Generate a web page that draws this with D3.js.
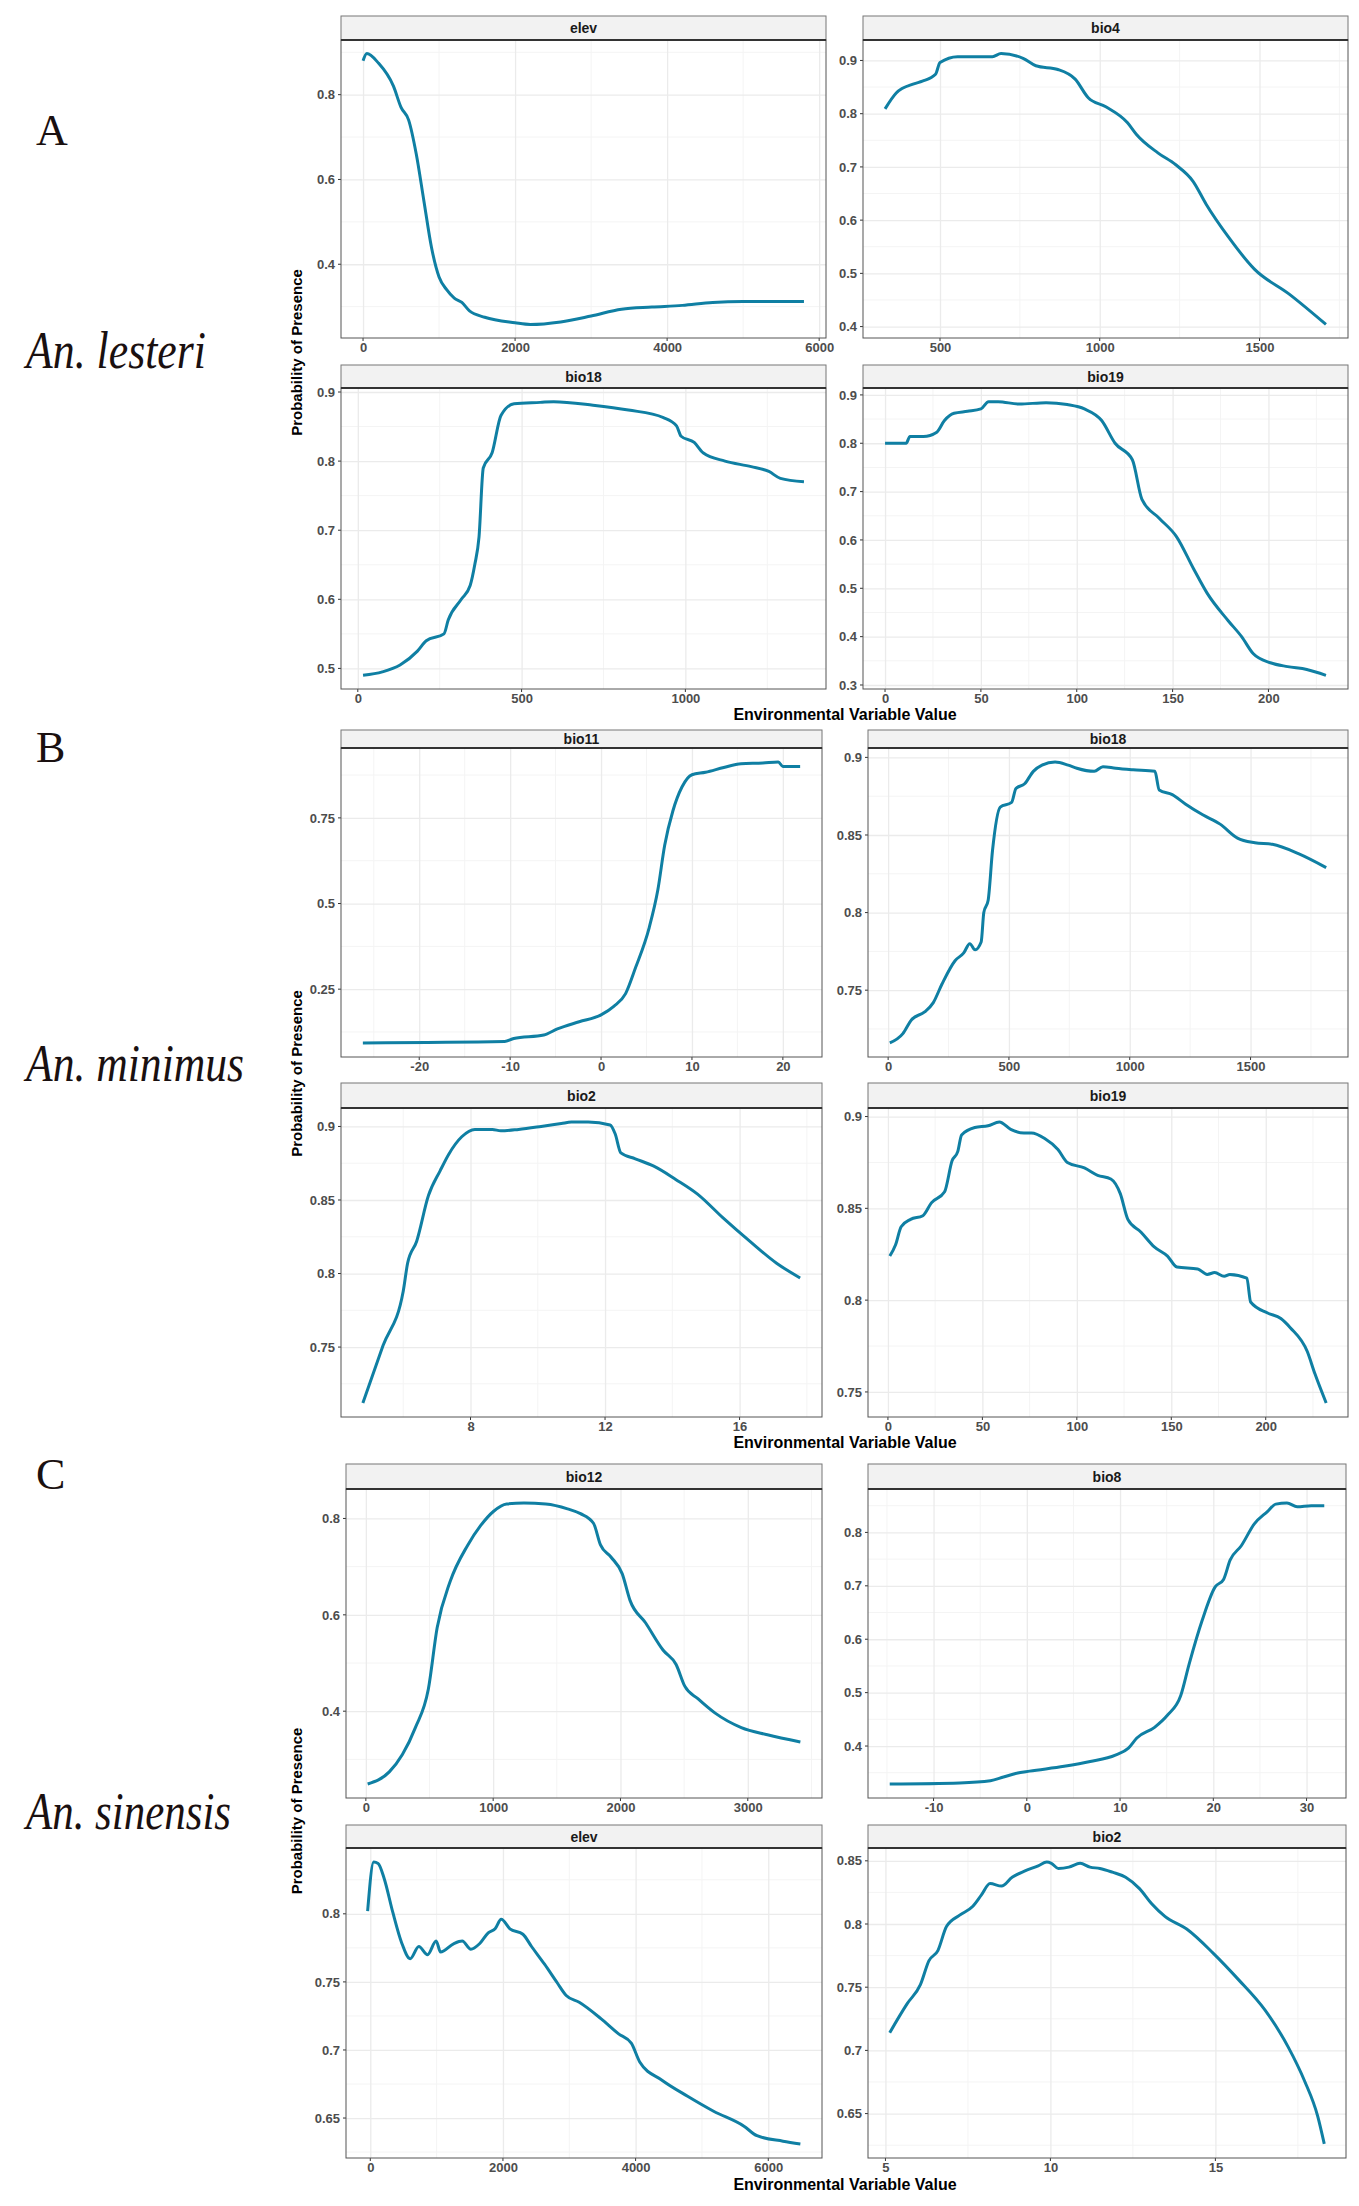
<!DOCTYPE html>
<html>
<head>
<meta charset="utf-8">
<title>Response curves</title>
<script src="https://d3js.org/d3.v7.min.js"></script>
<style>
  body { margin: 0; background: #fff; }
</style>
</head>
<body>
<script>
// data: [x, probability]
var aElev = [[0,0.88],[50,0.897],[200,0.875],[400,0.82],[500,0.77],[600,0.74],[700,0.66],[800,0.55],[900,0.44],[1000,0.37],[1100,0.34],[1200,0.32],[1300,0.31],[1400,0.29],[1600,0.275],[2000,0.262],[2200,0.258],[2600,0.264],[3000,0.278],[3400,0.294],[3800,0.299],[4200,0.303],[4600,0.31],[5000,0.312],[5800,0.312]];
var aBio4 = [[328,0.809],[363,0.839],[418,0.856],[445,0.861],[486,0.874],[500,0.896],[555,0.907],[664,0.907],[691,0.913],[760,0.904],[800,0.89],[869,0.883],[923,0.865],[964,0.83],[1019,0.813],[1087,0.783],[1115,0.761],[1183,0.726],[1238,0.704],[1292,0.673],[1333,0.63],[1402,0.569],[1484,0.508],[1593,0.461],[1708,0.404]];
var aBio18 = [[16,0.49],[75,0.495],[129,0.505],[182,0.525],[209,0.54],[263,0.55],[276,0.57],[316,0.6],[343,0.62],[357,0.65],[370,0.69],[383,0.79],[410,0.812],[437,0.866],[477,0.883],[557,0.885],[598,0.886],[718,0.881],[826,0.874],[933,0.863],[973,0.851],[987,0.836],[1027,0.827],[1054,0.812],[1121,0.8],[1201,0.792],[1255,0.785],[1290,0.775],[1362,0.77]];
var aBio19 = [[0,0.8],[11,0.8],[13,0.814],[20,0.814],[27,0.823],[31,0.847],[36,0.862],[43,0.866],[50,0.871],[54,0.886],[59,0.886],[70,0.881],[84,0.884],[95,0.88],[104,0.871],[113,0.847],[120,0.8],[129,0.766],[134,0.684],[143,0.645],[152,0.607],[161,0.54],[168,0.49],[179,0.433],[186,0.4],[192,0.365],[201,0.346],[210,0.338],[220,0.332],[230,0.32]];

var bBio11 = [[-26.2,0.093],[-10.6,0.097],[-9.6,0.106],[-6.3,0.116],[-4.8,0.134],[-2.4,0.155],[0,0.175],[1.4,0.2],[2.7,0.237],[3.8,0.313],[5.3,0.43],[6.25,0.54],[7,0.67],[7.9,0.77],[8.9,0.84],[10,0.876],[11.5,0.883],[13.5,0.897],[15.4,0.908],[17.8,0.91],[19.5,0.913],[20,0.9],[21.9,0.9]];
var bBio18 = [[7,0.716],[61,0.722],[97,0.731],[151,0.736],[187,0.742],[223,0.754],[277,0.769],[313,0.774],[338,0.78],[360,0.776],[385,0.781],[396,0.8],[414,0.808],[432,0.84],[464,0.868],[511,0.871],[529,0.88],[565,0.883],[601,0.891],[637,0.895],[691,0.897],[745,0.895],[781,0.893],[853,0.891],[889,0.894],[942,0.893],[1014,0.892],[1104,0.891],[1122,0.879],[1176,0.876],[1230,0.87],[1302,0.863],[1374,0.857],[1446,0.848],[1518,0.845],[1590,0.844],[1698,0.838],[1813,0.829]];
var bBio2 = [[4.8,0.712],[5.4,0.751],[6.0,0.788],[6.13,0.807],[6.4,0.822],[6.75,0.853],[7.1,0.87],[7.35,0.881],[7.74,0.893],[8.13,0.898],[8.65,0.898],[8.9,0.897],[9.43,0.898],[10.1,0.9],[10.7,0.902],[11.0,0.903],[11.5,0.903],[12.15,0.901],[12.3,0.895],[12.47,0.882],[12.9,0.878],[13.45,0.873],[14.1,0.864],[14.75,0.854],[15.5,0.838],[16.3,0.822],[17.1,0.807],[17.8,0.797]];
var bBio19 = [[1,0.824],[4,0.83],[7,0.84],[12,0.844],[18.5,0.846],[23,0.853],[30,0.859],[34,0.876],[37,0.881],[39,0.89],[46,0.894],[53,0.895],[59,0.897],[65,0.893],[72,0.891],[76,0.891],[83,0.888],[90,0.882],[95,0.875],[104,0.872],[111,0.868],[118,0.866],[123,0.858],[127,0.844],[134,0.837],[141,0.829],[148,0.824],[153,0.818],[164,0.817],[169,0.814],[173,0.815],[178,0.813],[181,0.814],[190,0.812],[192,0.799],[201,0.793],[208,0.79],[213,0.785],[222,0.772],[226,0.76],[232,0.744]];

var cBio12 = [[14,0.249],[184,0.274],[287,0.31],[389,0.366],[491,0.446],[560,0.573],[662,0.669],[799,0.744],[901,0.785],[1004,0.815],[1106,0.83],[1242,0.832],[1413,0.83],[1584,0.82],[1686,0.81],[1788,0.79],[1843,0.745],[1925,0.72],[2014,0.685],[2075,0.63],[2198,0.583],[2334,0.527],[2437,0.497],[2505,0.452],[2608,0.426],[2744,0.396],[2949,0.366],[3154,0.351],[3413,0.336]];
var cBio8 = [[-14.7,0.329],[-7.2,0.331],[-3.9,0.335],[-2.5,0.342],[-1.1,0.349],[0.3,0.353],[4.0,0.362],[6.8,0.371],[9.5,0.383],[10.9,0.396],[11.8,0.415],[13.7,0.435],[15.1,0.458],[16.5,0.494],[17.4,0.553],[18.8,0.635],[20.2,0.698],[21.1,0.712],[21.8,0.748],[23,0.775],[24.4,0.816],[25.8,0.839],[26.7,0.853],[27.9,0.855],[29,0.848],[30.5,0.85],[31.9,0.85]];
var cElev = [[-40,0.802],[52,0.838],[118,0.837],[209,0.826],[340,0.801],[471,0.779],[601,0.767],[732,0.776],[863,0.77],[993,0.78],[1059,0.772],[1255,0.778],[1386,0.78],[1516,0.774],[1647,0.778],[1778,0.786],[1882,0.789],[1974,0.796],[2105,0.789],[2301,0.785],[2431,0.776],[2627,0.763],[2823,0.749],[2954,0.74],[3150,0.735],[3477,0.723],[3739,0.712],[3935,0.705],[4065,0.691],[4392,0.678],[4784,0.666],[5176,0.655],[5634,0.644],[5830,0.637],[6222,0.633],[6484,0.631]];
var cBio2 = [[5.13,0.714],[5.66,0.737],[6.06,0.752],[6.32,0.771],[6.59,0.779],[6.85,0.798],[7.25,0.807],[7.65,0.814],[7.91,0.823],[8.17,0.832],[8.52,0.83],[8.84,0.837],[9.23,0.842],[9.63,0.846],[9.89,0.849],[10.03,0.848],[10.24,0.844],[10.56,0.845],[10.9,0.848],[11.2,0.845],[11.5,0.844],[11.88,0.841],[12.28,0.837],[12.7,0.828],[13.07,0.816],[13.47,0.806],[14.13,0.796],[14.93,0.777],[15.7,0.756],[16.5,0.732],[17.2,0.703],[17.7,0.676],[18.1,0.648],[18.3,0.626]];

// tick labels
var aElevXT = [0,2000,4000,6000], aElevYT = [0.4,0.6,0.8];
var aBio4XT = [500,1000,1500], aBio4YT = [0.4,0.5,0.6,0.7,0.8,0.9];
var aBio18XT = [0,500,1000], aBio18YT = [0.5,0.6,0.7,0.8,0.9];
var aBio19XT = [0,50,100,150,200], aBio19YT = [0.3,0.4,0.5,0.6,0.7,0.8,0.9];
var bBio11XT = [-20,-10,0,10,20], bBio11YT = [0.25,0.5,0.75];
var bBio18XT = [0,500,1000,1500], bBio18YT = [0.75,0.8,0.85,0.9];
var bBio2XT = [8,12,16], bBio2YT = [0.75,0.8,0.85,0.9];
var bBio19XT = [0,50,100,150,200], bBio19YT = [0.75,0.8,0.85,0.9];
var cBio12XT = [0,1000,2000,3000], cBio12YT = [0.4,0.6,0.8];
var cBio8XT = [-10,0,10,20,30], cBio8YT = [0.4,0.5,0.6,0.7,0.8];
var cElevXT = [0,2000,4000,6000], cElevYT = [0.65,0.7,0.75,0.8];
var cBio2XT = [5,10,15], cBio2YT = [0.65,0.7,0.75,0.8,0.85];

var groups = [
  {letter:"A", species:"An. lesteri", spW:180, letterY:145, spY:368, labelY:720,
   rows:[[16,40,338],[365,388,689]], cols:[[341,826],[863,1348]],
   panels:[["elev",aElev,aElevXT,aElevYT],["bio4",aBio4,aBio4XT,aBio4YT],["bio18",aBio18,aBio18XT,aBio18YT],["bio19",aBio19,aBio19XT,aBio19YT]]},
  {letter:"B", species:"An. minimus", spW:218, letterY:762, spY:1081, labelY:1448,
   rows:[[730,748,1057],[1083,1108,1417]], cols:[[341,822],[868,1348]],
   panels:[["bio11",bBio11,bBio11XT,bBio11YT],["bio18",bBio18,bBio18XT,bBio18YT],["bio2",bBio2,bBio2XT,bBio2YT],["bio19",bBio19,bBio19XT,bBio19YT]]},
  {letter:"C", species:"An. sinensis", spW:205, letterY:1489, spY:1829, labelY:2190,
   rows:[[1464,1489,1798],[1825,1848,2158]], cols:[[346,822],[868,1346]],
   panels:[["bio12",cBio12,cBio12XT,cBio12YT],["bio8",cBio8,cBio8XT,cBio8YT],["elev",cElev,cElevXT,cElevYT],["bio2",cBio2,cBio2XT,cBio2YT]]}
];

var W = 1359, H = 2206;
var svg = d3.select("body").append("svg").attr("width", W).attr("height", H);
svg.append("rect").attr("width", W).attr("height", H).attr("fill", "#fff");

var tickFont = "'Liberation Sans Narrow','Liberation Sans',Arial,sans-serif";
var lineColor = "#0f7fa3";

function expand(ext) {
  var d = (ext[1] - ext[0]) * 0.05;
  return [ext[0] - d, ext[1] + d];
}

groups.forEach(function(g) {
  svg.append("text").attr("x", 36).attr("y", g.letterY)
    .attr("font-family", "'Liberation Serif','Times New Roman',serif")
    .attr("font-size", 44).attr("fill", "#1a1010").text(g.letter);
  svg.append("text").attr("x", 26).attr("y", g.spY)
    .attr("font-family", "'Liberation Serif','Times New Roman',serif")
    .attr("font-style", "italic").attr("font-size", 52).attr("fill", "#1a1010")
    .attr("textLength", g.spW).attr("lengthAdjust", "spacingAndGlyphs")
    .text(g.species);

  var midY = (g.rows[0][0] + g.rows[1][2]) / 2;
  svg.append("text")
    .attr("transform", "translate(302," + midY + ") rotate(-90)")
    .attr("text-anchor", "middle").attr("font-family", "'Liberation Sans',Arial,sans-serif")
    .attr("font-weight", "bold").attr("font-size", 15).text("Probability of Presence");
  svg.append("text").attr("x", 845).attr("y", g.labelY).attr("text-anchor", "middle")
    .attr("font-family", tickFont).attr("font-weight", "bold").attr("font-size", 16)
    .text("Environmental Variable Value");

  g.panels.forEach(function(p, i) {
    var r = g.rows[Math.floor(i / 2)], c = g.cols[i % 2];
    var data = p[1];
    var x = d3.scaleLinear().domain(expand(d3.extent(data, d => d[0]))).range([c[0], c[1]]);
    var y = d3.scaleLinear().domain(expand(d3.extent(data, d => d[1]))).range([r[2], r[1]]);
    var gp = svg.append("g");

    // minor grid (midpoints between major ticks)
    var xs = p[2], ys = p[3];
    var xstep = xs[1] - xs[0], ystep = ys[1] - ys[0];
    var xmin = d3.range(xs[0] - xstep / 2, x.domain()[1], xstep).filter(v => v > x.domain()[0]);
    var ymin = d3.range(ys[0] - ystep / 2, y.domain()[1], ystep).filter(v => v > y.domain()[0]);
    gp.selectAll(".mx").data(xmin).enter().append("line")
      .attr("x1", d => x(d)).attr("x2", d => x(d)).attr("y1", r[1]).attr("y2", r[2])
      .attr("stroke", "#f4f4f4").attr("stroke-width", 1);
    gp.selectAll(".my").data(ymin).enter().append("line")
      .attr("y1", d => y(d)).attr("y2", d => y(d)).attr("x1", c[0]).attr("x2", c[1])
      .attr("stroke", "#f4f4f4").attr("stroke-width", 1);

    // major grid through the axes
    var xa = d3.axisBottom(x).tickValues(xs).tickSize(-(r[2] - r[1])).tickFormat(d => String(d)).tickPadding(5);
    var ya = d3.axisLeft(y).tickValues(ys).tickSize(-(c[1] - c[0])).tickFormat(d => String(d)).tickPadding(6);
    [[xa, "translate(0," + r[2] + ")"], [ya, "translate(" + c[0] + ",0)"]].forEach(function(a) {
      var ag = gp.append("g").attr("transform", a[1]).call(a[0]);
      ag.select(".domain").remove();
      ag.selectAll(".tick line").attr("stroke", "#ebebeb").attr("stroke-width", 1.3);
      ag.selectAll(".tick text").attr("font-family", tickFont).attr("font-weight", "bold")
        .attr("font-size", 13).attr("fill", "#4d4d4d");
    });
    // small outside ticks
    gp.selectAll(".xt").data(xs).enter().append("line")
      .attr("x1", d => x(d)).attr("x2", d => x(d)).attr("y1", r[2]).attr("y2", r[2] + 3)
      .attr("stroke", "#333");
    gp.selectAll(".yt").data(ys).enter().append("line")
      .attr("y1", d => y(d)).attr("y2", d => y(d)).attr("x1", c[0] - 3).attr("x2", c[0])
      .attr("stroke", "#333");

    gp.append("path").datum(data)
      .attr("d", d3.line().x(d => x(d[0])).y(d => y(d[1])).curve(d3.curveMonotoneX))
      .attr("fill", "none").attr("stroke", lineColor).attr("stroke-width", 3)
      .attr("stroke-linejoin", "round");

    gp.append("rect").attr("x", c[0]).attr("y", r[1]).attr("width", c[1] - c[0])
      .attr("height", r[2] - r[1]).attr("fill", "none").attr("stroke", "#555").attr("stroke-width", 1);
    // strip
    gp.append("rect").attr("x", c[0]).attr("y", r[0]).attr("width", c[1] - c[0])
      .attr("height", r[1] - r[0]).attr("fill", "#f2f2f2").attr("stroke", "#777").attr("stroke-width", 1);
    gp.append("line").attr("x1", c[0]).attr("x2", c[1]).attr("y1", r[1]).attr("y2", r[1])
      .attr("stroke", "#333").attr("stroke-width", 2);
    gp.append("text").attr("x", (c[0] + c[1]) / 2).attr("y", (r[0] + r[1]) / 2 + 5)
      .attr("text-anchor", "middle").attr("font-family", tickFont).attr("font-weight", "bold")
      .attr("font-size", 14).attr("fill", "#1a1a1a").text(p[0]);
  });
});
</script>
</body>
</html>
